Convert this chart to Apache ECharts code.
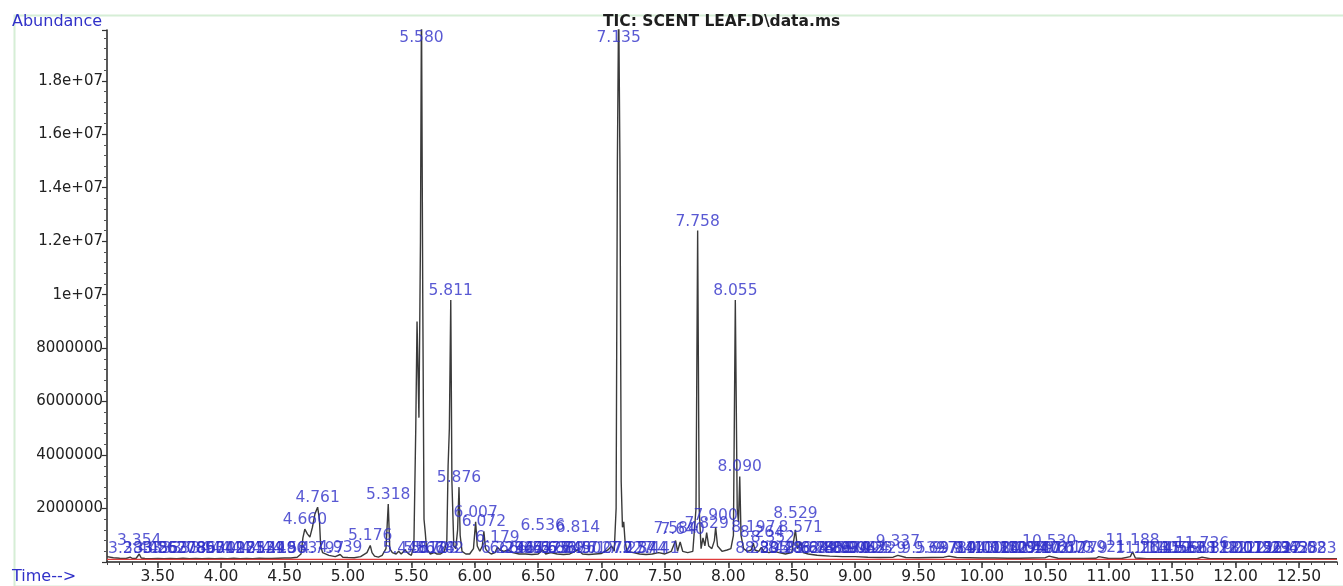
<!DOCTYPE html>
<html>
<head>
<meta charset="utf-8">
<script src="https://cdn.jsdelivr.net/npm/echarts@6/dist/echarts.min.js"></script>
<style>
html,body{margin:0;padding:0;background:#fff;}
#chart{width:1343px;height:586px;}
</style>
</head>
<body>
<div id="chart"></div>
<script>
// ---- data (retention time in min, abundance in counts) ----
const times = [3.10,3.15,3.20,3.25,3.283,3.30,3.33,3.354,3.37,3.40,3.45,3.50,3.55,3.60,3.65,3.70,3.75,3.80,3.85,3.90,3.95,4.00,4.05,4.10,4.15,4.20,4.25,4.30,4.35,4.40,4.45,4.50,4.55,4.60,4.63,4.645,4.66,4.68,4.70,4.72,4.74,4.761,4.775,4.785,4.80,4.85,4.90,4.939,4.96,5.00,5.05,5.10,5.15,5.176,5.19,5.21,5.24,5.27,5.30,5.318,5.33,5.35,5.38,5.40,5.42,5.45,5.48,5.50,5.52,5.535,5.545,5.56,5.572,5.580,5.59,5.60,5.61,5.62,5.65,5.68,5.70,5.73,5.76,5.78,5.79,5.80,5.811,5.82,5.835,5.85,5.865,5.876,5.885,5.90,5.93,5.96,5.99,6.007,6.02,6.04,6.06,6.072,6.085,6.10,6.13,6.16,6.179,6.20,6.23,6.26,6.30,6.35,6.40,6.45,6.50,6.536,6.56,6.60,6.65,6.70,6.75,6.814,6.85,6.90,6.95,7.00,7.05,7.08,7.10,7.115,7.125,7.135,7.145,7.155,7.165,7.175,7.185,7.20,7.25,7.30,7.35,7.40,7.45,7.50,7.55,7.584,7.60,7.62,7.64,7.68,7.72,7.745,7.758,7.77,7.785,7.80,7.815,7.829,7.845,7.87,7.89,7.900,7.915,7.95,7.99,8.02,8.04,8.055,8.07,8.08,8.090,8.10,8.12,8.15,8.18,8.197,8.21,8.24,8.26,8.28,8.32,8.36,8.40,8.45,8.50,8.529,8.545,8.571,8.59,8.63,8.70,8.80,8.90,9.00,9.10,9.20,9.30,9.337,9.40,9.50,9.60,9.70,9.74,9.80,9.90,10.00,10.10,10.20,10.30,10.40,10.50,10.53,10.60,10.70,10.80,10.90,10.921,11.00,11.10,11.17,11.188,11.21,11.30,11.40,11.50,11.60,11.70,11.736,11.80,11.90,12.00,12.10,12.20,12.30,12.40,12.50,12.60,12.70,12.80];
const abundance = [0.20e6,0.16e6,0.14e6,0.13e6,0.18e6,0.13e6,0.14e6,0.30e6,0.15e6,0.13e6,0.12e6,0.13e6,0.12e6,0.13e6,0.12e6,0.14e6,0.12e6,0.13e6,0.12e6,0.13e6,0.12e6,0.13e6,0.12e6,0.14e6,0.12e6,0.13e6,0.12e6,0.14e6,0.13e6,0.13e6,0.14e6,0.15e6,0.15e6,0.18e6,0.30e6,0.90e6,1.23e6,1.05e6,0.93e6,1.30e6,1.80e6,2.05e6,1.60e6,0.60e6,0.35e6,0.25e6,0.20e6,0.28e6,0.18e6,0.17e6,0.16e6,0.20e6,0.35e6,0.62e6,0.35e6,0.22e6,0.18e6,0.25e6,0.50e6,2.17e6,0.50e6,0.35e6,0.30e6,0.40e6,0.30e6,0.45e6,0.30e6,0.25e6,0.60e6,5.0e6,9.0e6,5.4e6,12.0e6,21.0e6,10.0e6,1.6e6,1.1e6,0.50e6,0.30e6,0.35e6,0.30e6,0.30e6,0.40e6,0.80e6,3.6e6,5.0e6,9.8e6,3.0e6,0.60e6,0.50e6,1.2e6,2.8e6,1.0e6,0.40e6,0.30e6,0.30e6,0.50e6,1.5e6,0.60e6,0.40e6,0.60e6,1.15e6,0.50e6,0.40e6,0.30e6,0.35e6,0.55e6,0.45e6,0.40e6,0.45e6,0.35e6,0.30e6,0.30e6,0.28e6,0.30e6,0.45e6,0.30e6,0.35e6,0.30e6,0.28e6,0.30e6,0.45e6,0.30e6,0.28e6,0.30e6,0.32e6,0.45e6,0.60e6,0.40e6,2.0e6,15.0e6,21.0e6,15.0e6,3.0e6,1.3e6,1.5e6,0.80e6,0.40e6,0.35e6,0.30e6,0.28e6,0.30e6,0.35e6,0.30e6,0.40e6,0.80e6,0.40e6,0.75e6,0.40e6,0.35e6,0.40e6,2.0e6,12.4e6,2.0e6,0.50e6,0.90e6,0.60e6,1.1e6,0.60e6,0.50e6,0.80e6,1.3e6,0.60e6,0.40e6,0.45e6,0.50e6,1.0e6,9.8e6,2.0e6,1.5e6,3.2e6,1.0e6,0.50e6,0.40e6,0.45e6,0.70e6,0.45e6,0.40e6,0.55e6,0.40e6,0.35e6,0.40e6,0.35e6,0.30e6,0.35e6,1.2e6,0.50e6,0.75e6,0.35e6,0.30e6,0.25e6,0.22e6,0.20e6,0.20e6,0.18e6,0.17e6,0.18e6,0.25e6,0.17e6,0.16e6,0.17e6,0.18e6,0.22e6,0.17e6,0.16e6,0.15e6,0.15e6,0.14e6,0.14e6,0.15e6,0.16e6,0.22e6,0.14e6,0.13e6,0.13e6,0.14e6,0.20e6,0.13e6,0.13e6,0.20e6,0.38e6,0.15e6,0.12e6,0.12e6,0.12e6,0.12e6,0.13e6,0.18e6,0.12e6,0.12e6,0.12e6,0.12e6,0.12e6,0.12e6,0.12e6,0.12e6,0.12e6,0.12e6,0.12e6];

// integration baseline (red)
const baselineTimes = [3.10, 12.80];
const baselineAbund = [0.1e6, 0.1e6];

// peak labels: retention time and the height at which the label sits
const peakLabelTimes = [5.580,7.135,7.758,8.055,5.811,8.090,5.876,4.761,5.318,4.660,6.007,6.072,8.529,8.571,7.900,7.829,8.197,5.176,3.354,4.939,6.179,6.536,6.814,7.584,7.640,8.264,8.352,11.188,11.736,10.530,9.337,10.921];
const peakLabelAbund = [19.25e6,19.25e6,12.4e6,9.8e6,9.8e6,3.2e6,2.8e6,2.05e6,2.17e6,1.23e6,1.5e6,1.15e6,1.45e6,0.95e6,1.4e6,1.1e6,0.95e6,0.62e6,0.45e6,0.20e6,0.55e6,1.0e6,0.95e6,0.9e6,0.85e6,0.75e6,0.55e6,0.45e6,0.35e6,0.4e6,0.4e6,0.2e6];
const smallLabelTimes = [3.283,3.402,3.485,3.563,3.627,3.708,3.786,3.857,3.934,4.012,4.098,4.171,4.253,4.329,4.418,4.496,4.583,4.797,5.448,5.612,5.668,5.703,5.742,6.224,6.292,6.367,6.444,6.512,6.575,6.633,6.689,6.745,6.861,6.902,7.070,7.227,7.257,7.344,7.441,8.229,8.305,8.421,8.486,8.624,8.689,8.745,8.806,8.867,8.934,8.994,9.063,9.094,9.123,9.229,9.539,9.637,9.784,9.841,9.943,10.012,10.084,10.151,10.227,10.294,10.359,10.417,10.472,10.612,10.673,10.779,11.263,11.405,11.452,11.509,11.566,11.628,11.818,11.921,12.001,12.079,12.156,12.223,12.297,12.362,12.438,12.502,12.583];
const smallLabelAbund = 0.15e6;

// axis ticks
const xMajorTicks = [3.5,4.0,4.5,5.0,5.5,6.0,6.5,7.0,7.5,8.0,8.5,9.0,9.5,10.0,10.5,11.0,11.5,12.0,12.5];
const xMin = 3.1, xMax = 12.8;
const yMin = 0, yMax = 1.99e7, yInterval = 2e6;

// ---- build ----
const FONT = 'DejaVu Sans';
const BLUE = '#3030c8';
const trace = times.map((t, i) => [t, abundance[i]]);
const baseline = baselineTimes.map((t, i) => [t, baselineAbund[i]]);
const labelPts = peakLabelTimes.map((t, i) => [t, peakLabelAbund[i]]);
const smallPts = smallLabelTimes.map(t => [t, smallLabelAbund]);

function fmtY(v) {
  if (v === 0) return '';
  if (v >= 1e7) {
    const e = Math.floor(Math.log10(v) + 1e-9);
    const m = +(v / Math.pow(10, e)).toFixed(3);
    return m + 'e+' + String(e).padStart(2, '0');
  }
  return String(Math.round(v));
}

const labelStyle = {
  show: true, position: 'top', distance: 1,
  color: BLUE, fontFamily: FONT, fontSize: 15.5,
  formatter: p => p.value[0].toFixed(3)
};

const chart = echarts.init(document.getElementById('chart'), null, {renderer: 'canvas'});
chart.setOption({
  animation: false,
  backgroundColor: '#ffffff',
  grid: {left: 107, right: 6, top: 30, bottom: 24, containLabel: false},
  xAxis: [{
    type: 'value', min: xMin, max: xMax,
    axisLine: {show: true, lineStyle: {color: '#222', width: 1.5}},
    axisTick: {show: true, customValues: xMajorTicks, length: 6, lineStyle: {color: '#333', width: 1.5}},
    axisLabel: {show: true, customValues: xMajorTicks, formatter: v => v.toFixed(2), color: '#222', fontFamily: FONT, fontSize: 15.5, margin: 7},
    splitLine: {show: false}
  }, {
    type: 'value', min: xMin, max: xMax, interval: 0.1, position: 'bottom',
    axisLine: {show: false},
    axisTick: {show: true, length: 3, lineStyle: {color: '#444', width: 1}},
    axisLabel: {show: false},
    splitLine: {show: false}
  }],
  yAxis: {
    type: 'value', min: yMin, max: yMax, interval: yInterval,
    axisLine: {show: true, lineStyle: {color: '#222', width: 1.5}},
    axisTick: {show: true, length: 5, lineStyle: {color: '#333', width: 1.2}},
    minorTick: {show: true, splitNumber: 5, length: 3, lineStyle: {color: '#555'}},
    axisLabel: {formatter: fmtY, color: '#222', fontFamily: FONT, fontSize: 15, margin: 4, showMaxLabel: false, showMinLabel: false},
    splitLine: {show: false}
  },
  series: [{
    name: 'TIC', type: 'line', data: trace, symbol: 'none', clip: true, z: 3,
    lineStyle: {color: '#3a3a3a', width: 1.4}, silent: true
  }, {
    name: 'baseline', type: 'line', data: baseline, symbol: 'none', z: 4,
    lineStyle: {color: '#e03c3c', width: 1.2}, silent: true
  }, {
    name: 'smallLabels', type: 'scatter', data: smallPts, symbolSize: 0, z: 5,
    label: labelStyle, silent: true
  }, {
    name: 'peakLabels', type: 'scatter', data: labelPts, symbolSize: 0, z: 6,
    label: labelStyle, silent: true
  }],
  graphic: [{
    type: 'rect', left: 12, top: 13, z: -1,
    shape: {width: 1330, height: 571},
    style: {fill: 'none', stroke: '#d6eed6', lineWidth: 2}
  }, {
    type: 'text', left: 12, top: 14,
    style: {text: 'Abundance', fill: BLUE, font: '16px "DejaVu Sans"'}
  }, {
    type: 'text', left: 603, top: 14,
    style: {text: 'TIC: SCENT LEAF.D\\data.ms', fill: '#1e1e1e', font: 'bold 15.5px "DejaVu Sans"'}
  }, {
    type: 'text', left: 12, top: 569,
    style: {text: 'Time-->', fill: BLUE, font: '16px "DejaVu Sans"'}
  }]
});
</script>
</body>
</html>
